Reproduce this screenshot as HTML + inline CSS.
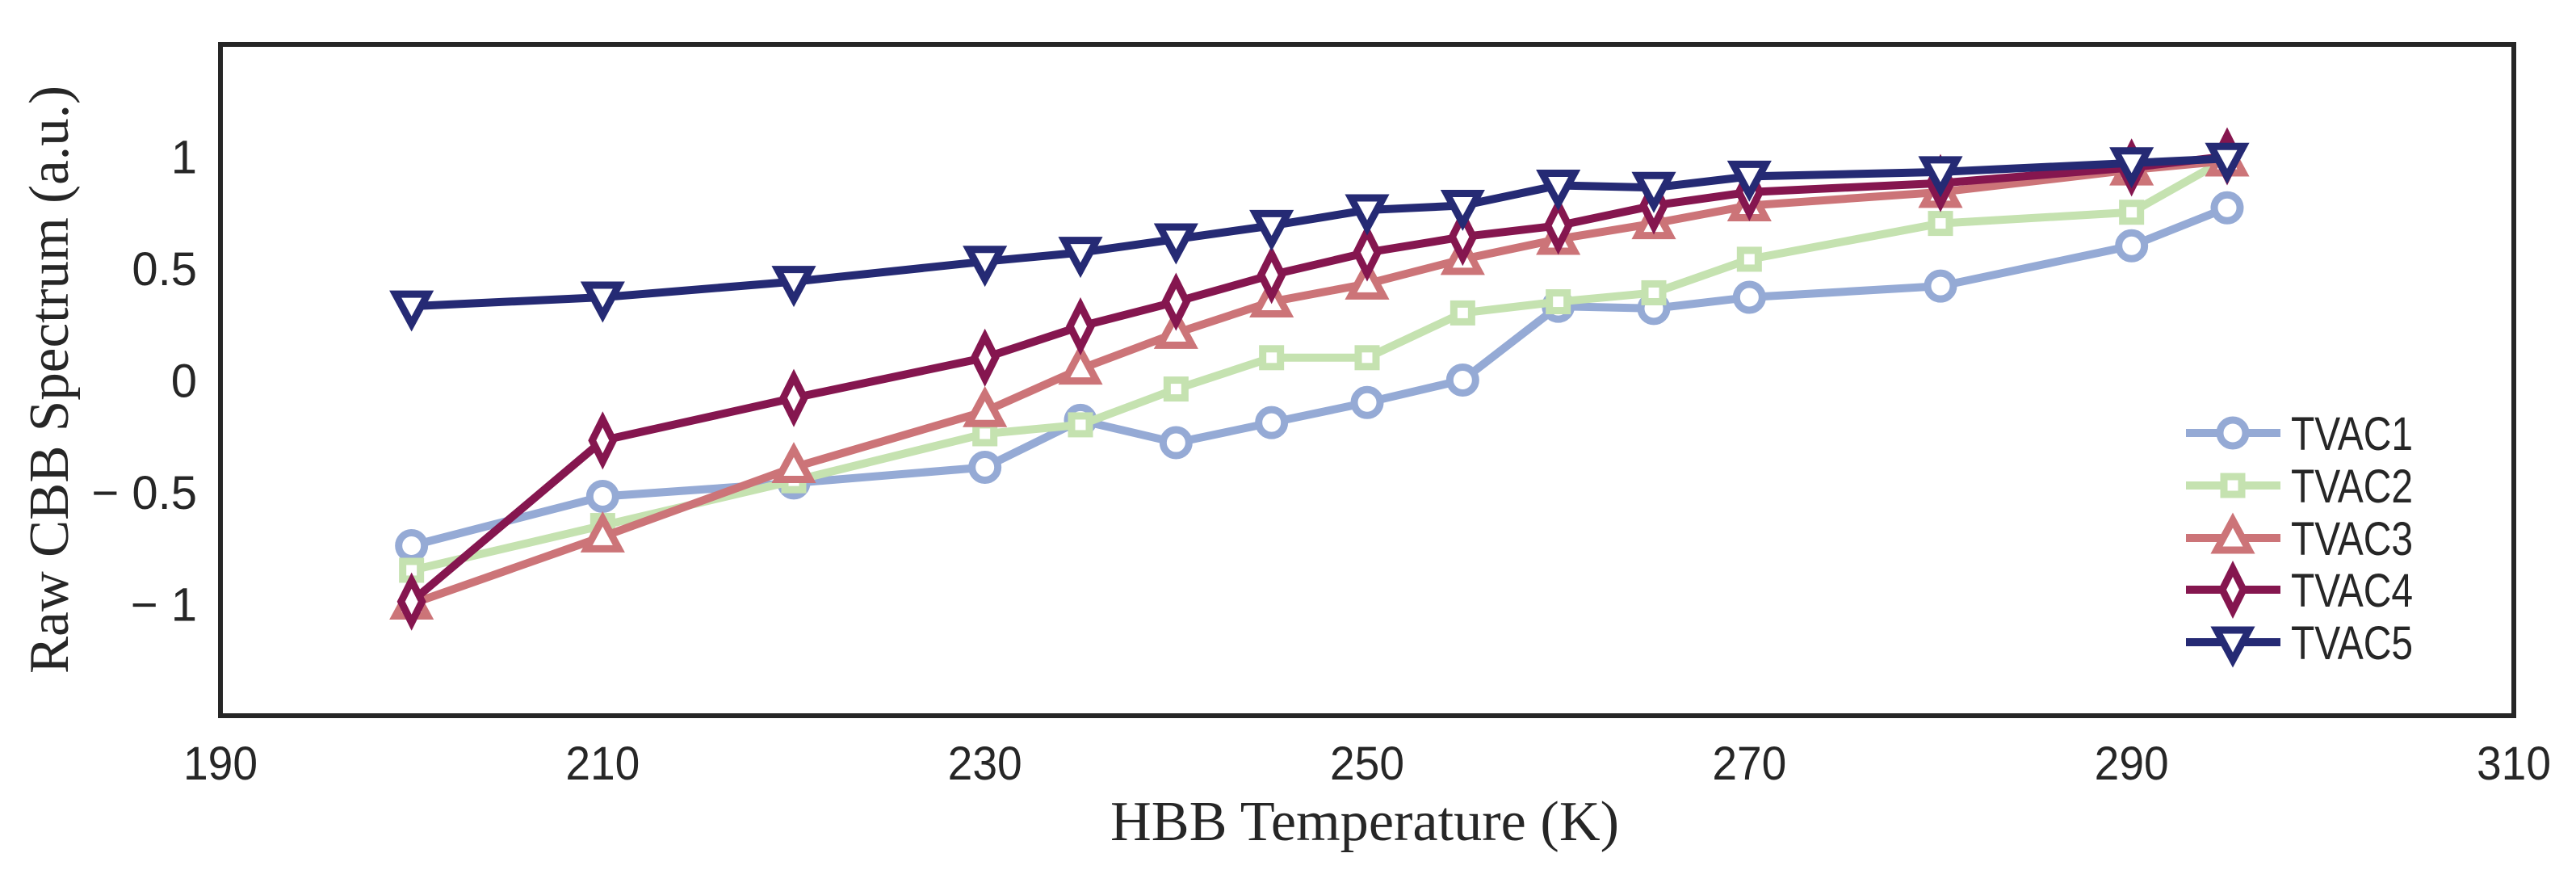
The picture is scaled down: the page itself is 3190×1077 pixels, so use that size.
<!DOCTYPE html>
<html><head><meta charset="utf-8"><style>
html,body{margin:0;padding:0;background:#fff;}
svg{display:block;}
.tick{font-family:"Liberation Sans",sans-serif;font-size:58px;fill:#262626;}
.axl{font-family:"Liberation Serif",serif;font-size:70px;fill:#262626;}
.leg{font-family:"Liberation Sans",sans-serif;font-size:58px;fill:#262626;}
</style></head><body>
<svg id="chart" width="3190" height="1077" viewBox="0 0 3190 1077" xmlns="http://www.w3.org/2000/svg">
<rect x="0" y="0" width="3190" height="1077" fill="#fff"/>
<g id="plot"></g>
<g id="axes"></g>
<g id="legend"></g>
<text class="axl" x="1690" y="1040" text-anchor="middle" textLength="630" lengthAdjust="spacingAndGlyphs">HBB Temperature (K)</text>
<text class="axl" transform="translate(84,470) rotate(-90)" text-anchor="middle" textLength="728" lengthAdjust="spacingAndGlyphs">Raw CBB Spectrum (a.u.)</text>
</svg>
<script>
const temps = [200,210,220,230,235,240,245,250,255,260,265,270,280,290,295];
const tvac1 = [-0.74,-0.52,-0.46,-0.39,-0.18,-0.28,-0.19,-0.10,0.0,0.33,0.32,0.37,0.42,0.60,0.77];
const tvac2 = [-0.85,-0.65,-0.45,-0.24,-0.20,-0.04,0.10,0.10,0.30,0.35,0.39,0.54,0.70,0.75,0.99];
const tvac3 = [-1.0,-0.70,-0.39,-0.14,0.05,0.21,0.35,0.43,0.54,0.63,0.70,0.78,0.84,0.94,0.98];
const tvac4 = [-0.99,-0.27,-0.08,0.10,0.24,0.35,0.47,0.57,0.64,0.69,0.78,0.84,0.88,0.95,1.0];
const tvac5 = [0.33,0.37,0.44,0.53,0.57,0.63,0.69,0.76,0.78,0.87,0.86,0.91,0.93,0.97,0.99];
const seriesNames = ["TVAC1","TVAC2","TVAC3","TVAC4","TVAC5"];
const xTicks = [190,210,230,250,270,290,310];
const yTicks = [-1,-0.5,0,0.5,1];
const yTickLabels = ["\u2212 1","\u2212 0.5","0","0.5","1"];

const NS="http://www.w3.org/2000/svg";
const L=273,R=3113,T=55,B=886;
const xMin=190,xMax=310,yMin=-1.5,yMax=1.5;
const sx=v=>L+(v-xMin)/(xMax-xMin)*(R-L);
const sy=v=>B-(v-yMin)/(yMax-yMin)*(B-T);
const colors=["#95aad5","#c5e2b0","#cc7478","#85164f","#252a74"];
const markers=["circle","square","triangle","diamond","tri-down"];
const allSeries=[tvac1,tvac2,tvac3,tvac4,tvac5];
function mk(tag,attrs,parent){const e=document.createElementNS(NS,tag);for(const k in attrs)e.setAttribute(k,attrs[k]);parent.appendChild(e);return e;}
function marker(type,x,y,c,parent){
  let e;
  const sw=9;
  if(type==="circle") e=mk("circle",{cx:x,cy:y,r:16,fill:"#fff",stroke:c,"stroke-width":sw},parent);
  else if(type==="square") e=mk("rect",{x:x-11,y:y-11,width:22,height:22,fill:"#fff",stroke:c,"stroke-width":sw},parent);
  else if(type==="triangle") e=mk("polygon",{points:`${x},${y-22} ${x+20},${y+15} ${x-20},${y+15}`,fill:"#fff",stroke:c,"stroke-width":sw},parent);
  else if(type==="diamond") e=mk("polygon",{points:`${x},${y-26} ${x+13},${y} ${x},${y+26} ${x-13},${y}`,fill:"#fff",stroke:c,"stroke-width":sw},parent);
  else e=mk("polygon",{points:`${x-20},${y-15} ${x+20},${y-15} ${x},${y+22}`,fill:"#fff",stroke:c,"stroke-width":sw},parent);
  return e;
}
const plot=document.getElementById("plot");
allSeries.forEach((vals,i)=>{
  const g=mk("g",{},plot);
  
  
  const pts=vals.map((v,j)=>sx(temps[j])+","+sy(v)).join(" ");
  const line=mk("polyline",{points:pts,fill:"none",stroke:colors[i],"stroke-width":10,"stroke-linejoin":"round"},g);
  
  
  vals.forEach((v,j)=>{
    const m=marker(markers[i],sx(temps[j]),sy(v),colors[i],g);
    
    
  });
});
const axes=document.getElementById("axes");
const frame=mk("rect",{x:L,y:T,width:R-L,height:B-T,fill:"none",stroke:"#262626","stroke-width":6},axes);


xTicks.forEach(t=>{
  const e=mk("text",{x:sx(t),y:965,"text-anchor":"middle",class:"tick",textLength:92,lengthAdjust:"spacingAndGlyphs"},axes);
  e.textContent=t;
  
  
});
yTicks.forEach((t,i)=>{
  const e=mk("text",{x:244,y:sy(t)+21,"text-anchor":"end",class:"tick"},axes);
  e.textContent=yTickLabels[i];
  
  
});
const leg=document.getElementById("legend");
const legY=[536,601,666,730,795];
seriesNames.forEach((n,i)=>{
  const g=mk("g",{},leg);
  
  
  mk("line",{x1:2707,x2:2824,y1:legY[i],y2:legY[i],stroke:colors[i],"stroke-width":10},g);
  marker(markers[i],2765,legY[i],colors[i],g);
  const t=mk("text",{x:2837,y:legY[i]+21,class:"leg",textLength:151,lengthAdjust:"spacingAndGlyphs"},g);
  t.textContent=n;
});
</script>
</body></html>
